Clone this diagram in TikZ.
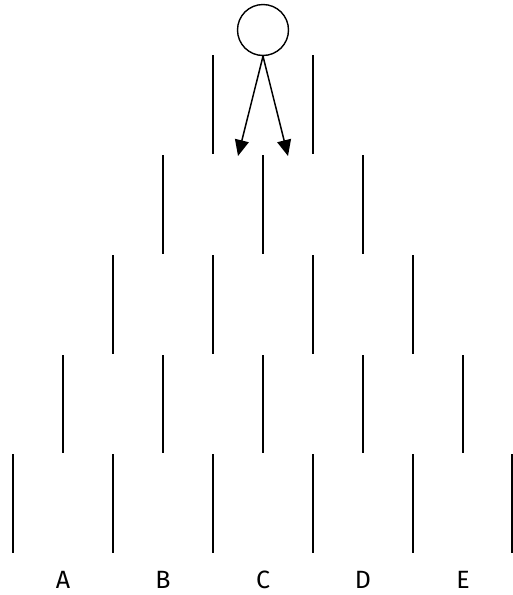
\documentclass[tikz,border=0pt]{standalone}
\usepackage{fontspec}
\setmainfont{Fira Sans}
\usetikzlibrary{arrows.meta}
\begin{document}
\begin{tikzpicture}[x=1pt,y=-1pt,
  peg/.style={line width=1.5pt},
  ball/.style={circle,draw,line width=1.4pt,minimum size=51pt,inner sep=0pt},
  fall/.style={line width=1.5pt,-{Triangle[length=16pt,width=14pt]}},
  lbl/.style={font=\fontsize{25}{28}\selectfont,anchor=base}]
\useasboundingbox (0,0) rectangle (513,595);
% rows of walls
\foreach \x in {213,313} \draw[peg] (\x,55) -- (\x,154);
\foreach \x in {163,263,363} \draw[peg] (\x,155) -- (\x,254);
\foreach \x in {113,213,313,413} \draw[peg] (\x,255) -- (\x,354);
\foreach \x in {63,163,263,363,463} \draw[peg] (\x,355) -- (\x,453);
\foreach \x in {13,113,213,313,413,512} \draw[peg] (\x,454) -- (\x,553);
% ball and arrows
\node[ball] (ball) at (263,30) {};
\coordinate (left) at (238,156);
\coordinate (right) at (288,156);
\draw[fall] (ball.south) -- (left);
\draw[fall] (ball.south) -- (right);
% labels
\node[lbl] (A) at (63,588) {A};
\node[lbl] (B) at (163,588) {B};
\node[lbl] (C) at (263,588) {C};
\node[lbl] (D) at (363,588) {D};
\node[lbl] (E) at (463,588) {E};
\end{tikzpicture}
\end{document}
